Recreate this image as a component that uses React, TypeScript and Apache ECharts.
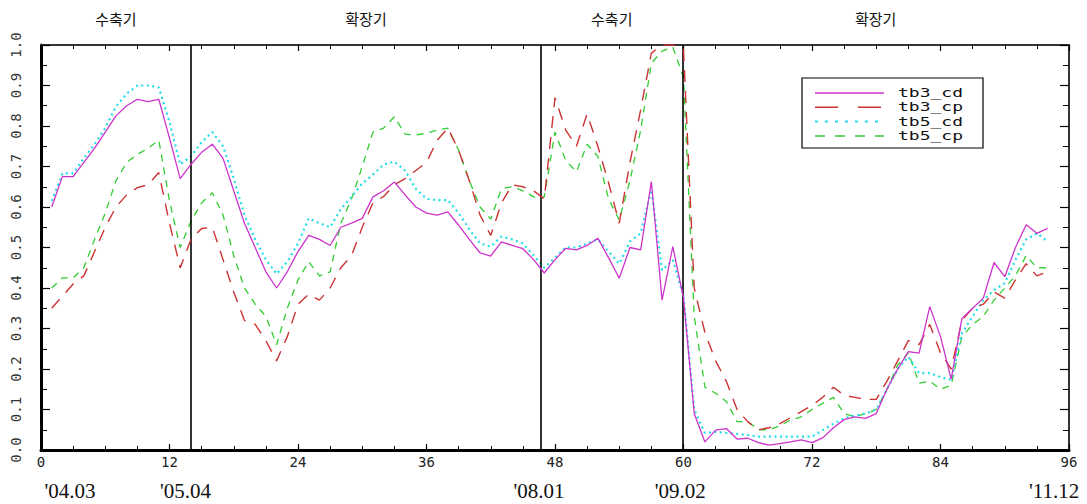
import React, { useEffect, useRef } from "react";
import * as echarts from "echarts";

// x positions (months since '04.02)
const months: number[] = Array.from({ length: 94 }, (_, i) => i + 1);

const tb3_cd = [
  0.60, 0.675, 0.675, 0.71, 0.745, 0.785, 0.825, 0.85, 0.866, 0.86,
  0.866, 0.77, 0.67, 0.705, 0.735, 0.755, 0.72, 0.64, 0.56, 0.50,
  0.44, 0.40, 0.44, 0.49, 0.53, 0.52, 0.505, 0.55, 0.56, 0.572,
  0.625, 0.64, 0.662, 0.63, 0.60, 0.585, 0.58, 0.588, 0.555, 0.52,
  0.487, 0.479, 0.514, 0.505, 0.497, 0.47, 0.437, 0.47, 0.498, 0.494,
  0.505, 0.523, 0.475, 0.424, 0.50, 0.494, 0.663, 0.37, 0.502, 0.375,
  0.09, 0.02, 0.049, 0.053, 0.027, 0.029, 0.018, 0.012, 0.016, 0.02,
  0.025, 0.018, 0.03, 0.055, 0.075, 0.082, 0.078, 0.09, 0.15, 0.20,
  0.243, 0.239, 0.354, 0.28, 0.175, 0.325, 0.35, 0.375, 0.463, 0.428,
  0.50, 0.556, 0.535, 0.547,
];

const tb3_cp = [
  0.35, 0.38, 0.41, 0.43, 0.49, 0.55, 0.60, 0.63, 0.648, 0.655,
  0.685, 0.56, 0.45, 0.52, 0.547, 0.55, 0.47, 0.39, 0.32, 0.31,
  0.27, 0.22, 0.28, 0.36, 0.385, 0.37, 0.40, 0.45, 0.48, 0.55,
  0.61, 0.626, 0.655, 0.67, 0.69, 0.71, 0.765, 0.795, 0.74, 0.665,
  0.58, 0.53, 0.61, 0.655, 0.65, 0.64, 0.62, 0.87, 0.79, 0.75,
  0.83, 0.75, 0.66, 0.56, 0.71, 0.84, 0.98, 1.0, 1.0, 0.99,
  0.40, 0.29, 0.22, 0.17, 0.10, 0.07, 0.05, 0.055, 0.065, 0.08,
  0.095, 0.11, 0.13, 0.155, 0.135, 0.13, 0.125, 0.125, 0.17, 0.22,
  0.27, 0.26, 0.31, 0.24, 0.20, 0.32, 0.35, 0.36, 0.39, 0.375,
  0.42, 0.46, 0.43, 0.44,
];

const tb5_cd = [
  0.615, 0.683, 0.683, 0.72, 0.755, 0.795, 0.848, 0.88, 0.90, 0.90,
  0.895, 0.81, 0.705, 0.725, 0.76, 0.785, 0.75, 0.67, 0.58, 0.52,
  0.47, 0.435, 0.465, 0.51, 0.572, 0.56, 0.55, 0.595, 0.625, 0.658,
  0.68, 0.705, 0.712, 0.69, 0.645, 0.62, 0.617, 0.617, 0.585, 0.545,
  0.51, 0.502, 0.527, 0.52, 0.51, 0.48, 0.45, 0.475, 0.50, 0.50,
  0.51, 0.52, 0.49, 0.46, 0.515, 0.535, 0.642, 0.444, 0.469, 0.38,
  0.10, 0.042, 0.045, 0.042, 0.04, 0.037, 0.033, 0.033, 0.033, 0.033,
  0.033, 0.033, 0.049, 0.065, 0.078, 0.085, 0.09, 0.10, 0.15, 0.20,
  0.23, 0.19, 0.19, 0.18, 0.173, 0.288, 0.33, 0.37, 0.395, 0.412,
  0.47, 0.52, 0.535, 0.515,
];

const tb5_cp = [
  0.40, 0.425, 0.425, 0.45, 0.52, 0.585, 0.665, 0.71, 0.73, 0.745,
  0.765, 0.615, 0.50, 0.565, 0.61, 0.635, 0.58, 0.48, 0.40, 0.36,
  0.33, 0.26, 0.35, 0.42, 0.465, 0.43, 0.44, 0.56, 0.62, 0.70,
  0.785, 0.795, 0.823, 0.78, 0.778, 0.782, 0.79, 0.795, 0.74, 0.665,
  0.60, 0.57, 0.645, 0.65, 0.64, 0.625, 0.625, 0.785, 0.715, 0.687,
  0.755, 0.725, 0.62, 0.568, 0.665, 0.79, 0.955, 0.985, 0.995, 0.92,
  0.33, 0.155, 0.14, 0.12, 0.07, 0.07, 0.05, 0.05, 0.06, 0.074,
  0.082, 0.10, 0.115, 0.13, 0.09, 0.082, 0.09, 0.10, 0.15, 0.21,
  0.24, 0.165, 0.17, 0.15, 0.16, 0.28, 0.31, 0.33, 0.37, 0.40,
  0.43, 0.48, 0.45, 0.45,
];

const seriesNames = ["tb3_cd", "tb3_cp", "tb5_cd", "tb5_cp"];
const seriesValues = [tb3_cd, tb3_cp, tb5_cd, tb5_cp];
const seriesColors = ["#cc33cc", "#cc3333", "#22dde8", "#33cc33"];
const seriesDash: (string | number[])[] = ["solid", [12, 9], [2, 3.5], [7, 6]];
const seriesWidth = [1.3, 1.4, 2.2, 1.3];
const legendDash: (string | number[] | null)[] = [null, [23, 20], [3, 7], [10, 10]];

const phaseBoundaries = [14, 46.7, 59.9];
const phaseStarts = [0, 14, 46.7, 59.9];
const phaseEnds = [14, 46.7, 59.9, 96];
const phaseNames = ["수축기", "확장기", "수축기", "확장기"];

const dateLabels = ["'04.03", "'05.04", "'08.01", "'09.02", "'11.12"];
const dateLabelPos = [2.7, 13.5, 46.5, 59.7, 94.6];

export default function App() {
  const ref = useRef<HTMLDivElement>(null);

  useEffect(() => {
    if (!ref.current) return;
    const chart = echarts.init(ref.current, null, { renderer: "svg" });

    const xCommon = {
      type: "value" as const,
      min: 0,
      max: 96,
      interval: 12,
      splitLine: { show: false },
    };
    const yCommon = {
      type: "value" as const,
      min: 0,
      max: 1,
      interval: 0.1,
      splitLine: { show: false },
    };

    const series: any[] = seriesNames.map((name, i) => ({
      name,
      type: "line",
      xAxisIndex: 0,
      yAxisIndex: 0,
      data: months.map((m, j) => [m, seriesValues[i][j]]),
      showSymbol: false,
      symbol: "none",
      lineStyle: { color: seriesColors[i], width: seriesWidth[i], type: seriesDash[i] },
      itemStyle: { color: seriesColors[i] },
      z: 3 + (3 - i),
    }));

    series[0].markLine = {
      silent: true,
      symbol: ["none", "none"],
      label: { show: false },
      lineStyle: { color: "#000", width: 1.6, type: "solid" },
      data: phaseBoundaries.map((v) => ({ xAxis: v })),
    };
    series[0].markArea = {
      silent: true,
      itemStyle: { color: "rgba(0,0,0,0)" },
      label: {
        show: true,
        position: "top",
        distance: 19,
        color: "#111",
        fontSize: 15,
        fontFamily: "Noto Sans CJK KR",
      },
      data: phaseStarts.map((s, i) => [
        { xAxis: s, name: phaseNames[i] },
        { xAxis: phaseEnds[i] },
      ]),
    };

    const option: any = {
      animation: false,
      backgroundColor: "#fff",
      grid: { left: 41, right: 18, top: 45, bottom: 54, containLabel: false },
      xAxis: [
        {
          ...xCommon,
          position: "bottom",
          axisLine: { show: true, onZero: false, lineStyle: { color: "#000", width: 3 } },
          axisTick: { show: true, inside: true, length: 6, lineStyle: { color: "#000", width: 1.2 } },
          minorTick: { show: true, splitNumber: 4, length: 4, lineStyle: { color: "#000", width: 1 } },
          axisLabel: {
            show: true,
            margin: 5,
            color: "#222",
            fontSize: 14,
            fontFamily: "DejaVu Sans Mono",
          },
        },
        {
          ...xCommon,
          position: "top",
          axisLine: { show: true, onZero: false, lineStyle: { color: "#333", width: 2 } },
          axisTick: { show: true, inside: true, length: 6, lineStyle: { color: "#000", width: 1.2 } },
          minorTick: { show: true, splitNumber: 4, length: 4, lineStyle: { color: "#000", width: 1 } },
          axisLabel: { show: false },
        },
      ],
      yAxis: [
        {
          ...yCommon,
          position: "left",
          axisLine: { show: true, onZero: false, lineStyle: { color: "#000", width: 3 } },
          axisTick: { show: true, inside: true, length: 9, lineStyle: { color: "#000", width: 1.2 } },
          minorTick: { show: true, splitNumber: 2, length: 6, lineStyle: { color: "#000", width: 1 } },
          axisLabel: {
            show: true,
            rotate: 90,
            margin: 18,
            color: "#333",
            fontSize: 14,
            fontFamily: "DejaVu Sans Mono",
            formatter: (v: number) => v.toFixed(1),
          },
        },
        {
          ...yCommon,
          position: "right",
          axisLine: { show: true, onZero: false, lineStyle: { color: "#333", width: 2 } },
          axisTick: { show: true, inside: true, length: 9, lineStyle: { color: "#000", width: 1.2 } },
          minorTick: { show: true, splitNumber: 2, length: 6, lineStyle: { color: "#000", width: 1 } },
          axisLabel: { show: false },
        },
      ],
      series,
    };

    chart.setOption(option);

    // Graphic elements: date labels under the axis and a boxed legend
    const graphics: any[] = [];
    dateLabels.forEach((t, i) => {
      const px = chart.convertToPixel({ xAxisIndex: 0 }, dateLabelPos[i]) as number;
      graphics.push({
        type: "text",
        x: px,
        y: 491,
        style: {
          text: t,
          fill: "#111",
          font: '21px "Liberation Serif"',
          textAlign: "center",
          textVerticalAlign: "middle",
        },
      });
    });

    const lgX = 802;
    const lgY = 78;
    graphics.push({
      type: "rect",
      shape: { x: lgX, y: lgY, width: 181, height: 70 },
      style: { fill: "#fff", stroke: "#000", lineWidth: 1.2 },
      z: 10,
    });
    seriesNames.forEach((name, i) => {
      const ry = lgY + 15 + i * 14.3;
      const dash = legendDash[i];
      graphics.push({
        type: "line",
        shape: { x1: lgX + 13, y1: ry, x2: lgX + 82, y2: ry },
        style: {
          stroke: seriesColors[i],
          lineWidth: i === 2 ? 2 : 1.5,
          lineDash: dash ? dash : null,
        },
        z: 11,
      });
      graphics.push({
        type: "text",
        x: lgX + 96,
        y: ry,
        scaleX: 1.5,
        style: {
          text: name,
          fill: "#111",
          font: '12px "DejaVu Sans Mono"',
          textAlign: "left",
          textVerticalAlign: "middle",
        },
        z: 11,
      });
    });

    chart.setOption({ graphic: graphics });

    return () => {
      chart.dispose();
    };
  }, []);

  return (
    <div
      ref={ref}
      style={{ position: "fixed", left: 0, top: 0, width: 1087, height: 504, background: "#fff" }}
    />
  );
}
